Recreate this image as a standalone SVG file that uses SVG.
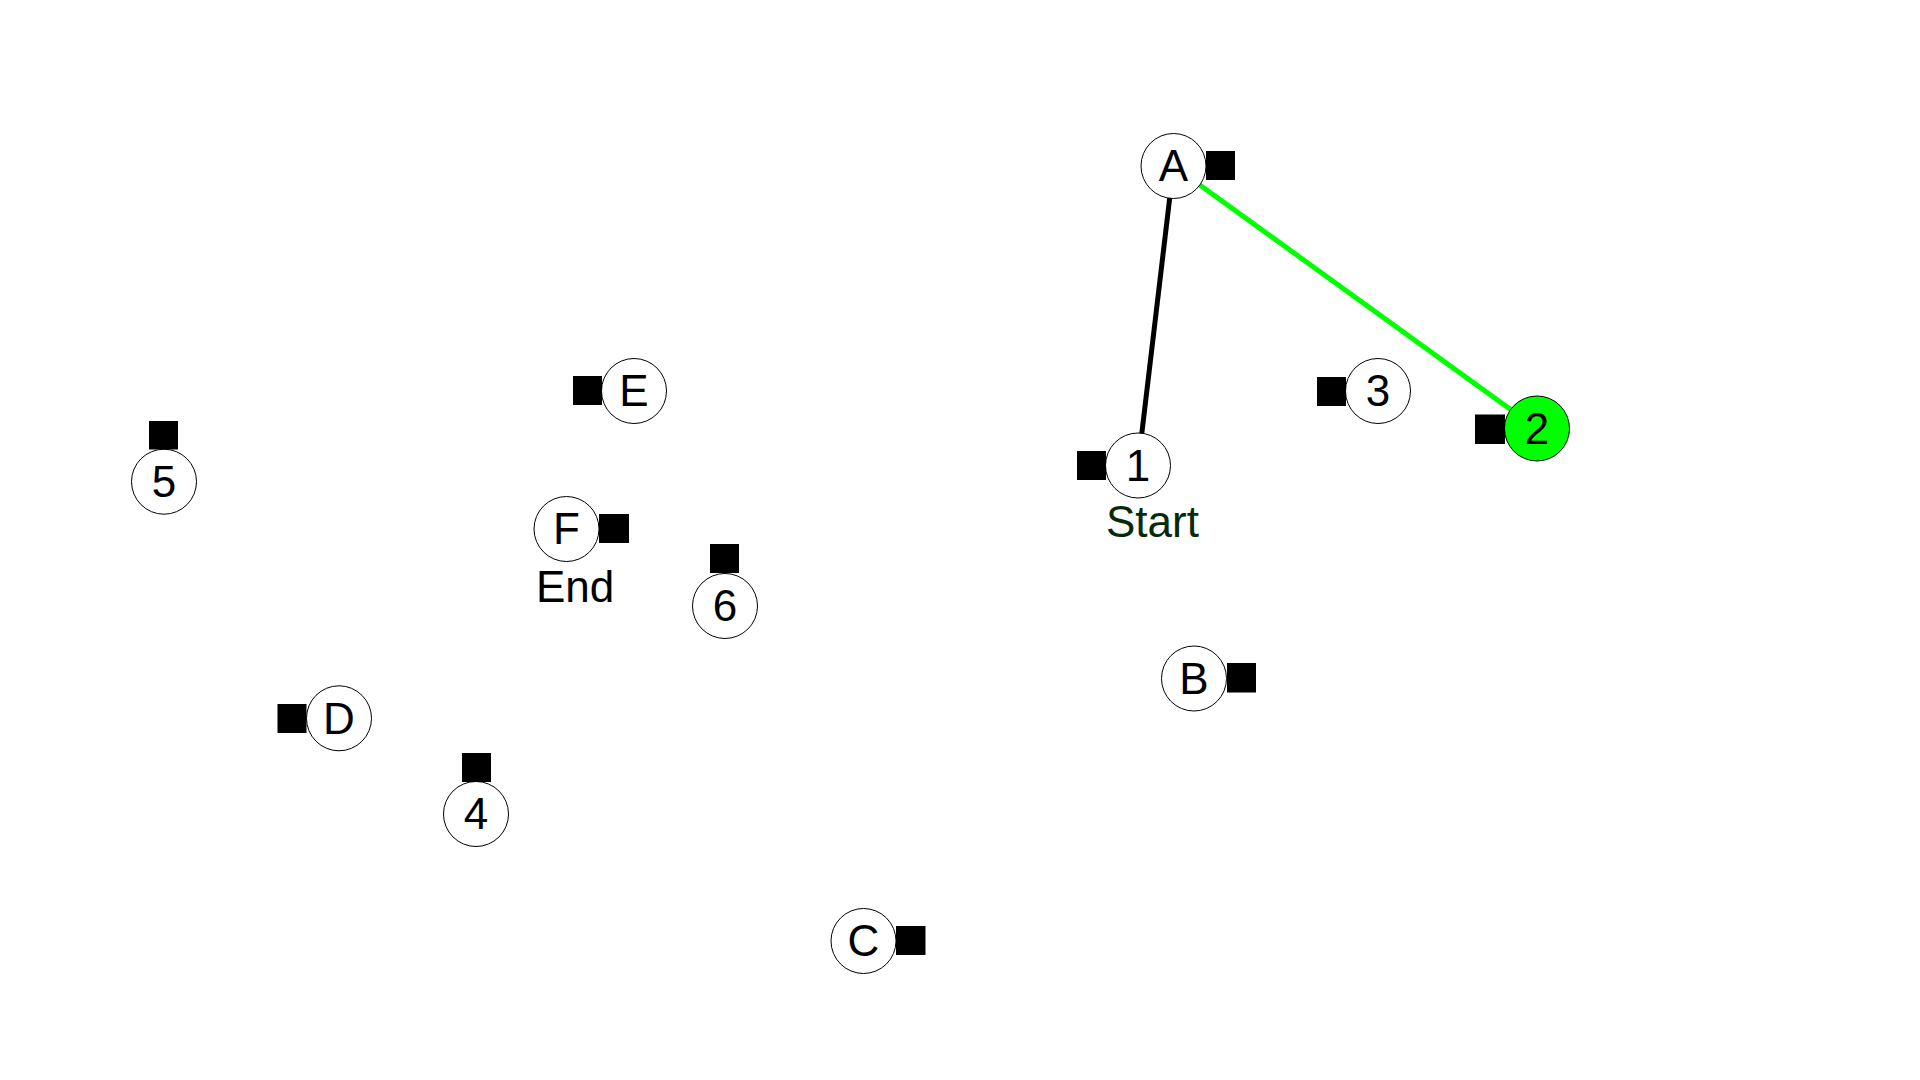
<svg xmlns="http://www.w3.org/2000/svg" width="1920" height="1080" viewBox="0 0 1920 1080">
<style>
.n circle{fill:#fff;stroke:#000;stroke-width:1}
.n rect{fill:#000}
.n text{font-family:"Liberation Sans",Arial,sans-serif;font-size:44px;fill:#000;text-anchor:middle}
.lbl{font-family:"Liberation Sans",Arial,sans-serif;font-size:43px}
.e{stroke-width:5;fill:none}
</style>
<rect width="1920" height="1080" fill="#fff"/>
<g id="connectors">
<line class="e" x1="1173.5" y1="166" x2="1138" y2="465.5" stroke="#000"/>
<line class="e" x1="1173.5" y1="166" x2="1537" y2="428.5" stroke="#00ff00"/>
</g>
<g id="node-A" class="n"><circle cx="1173.5" cy="166" r="32.5"/><rect x="1206" y="151" width="29" height="29"/><text x="1173.5" y="181">A</text></g>
<g id="node-1" class="n"><circle cx="1138" cy="465.5" r="32.5"/><rect x="1077" y="451" width="29" height="29"/><text x="1138" y="480.5">1</text><text class="lbl" x="1106" y="537" style="text-anchor:start;fill:#062a06">Start</text></g>
<g id="node-3" class="n"><circle cx="1378" cy="391" r="32.5"/><rect x="1317" y="377" width="29" height="29"/><text x="1378" y="406">3</text></g>
<g id="node-2" class="n"><circle cx="1537" cy="428.5" r="32.5" style="fill:#00ff00"/><rect x="1475" y="414.5" width="30" height="29.5"/><text x="1537" y="443.5">2</text></g>
<g id="node-E" class="n"><circle cx="634" cy="391" r="32.5"/><rect x="573" y="376" width="29" height="29"/><text x="634" y="406">E</text></g>
<g id="node-F" class="n"><circle cx="566.5" cy="529" r="32.5"/><rect x="599" y="514" width="30" height="29"/><text x="566.5" y="544">F</text><text class="lbl" x="536" y="602" style="text-anchor:start">End</text></g>
<g id="node-6" class="n"><circle cx="725" cy="606" r="32.5"/><rect x="710" y="544" width="29" height="29"/><text x="725" y="621">6</text></g>
<g id="node-5" class="n"><circle cx="164" cy="481.7" r="32.5"/><rect x="149" y="421" width="29" height="28.5"/><text x="164" y="497">5</text></g>
<g id="node-D" class="n"><circle cx="339" cy="718.3" r="32.5"/><rect x="277.5" y="704" width="29" height="29"/><text x="339" y="733.5">D</text></g>
<g id="node-4" class="n"><circle cx="476" cy="814" r="32.5"/><rect x="462" y="753" width="29" height="29"/><text x="476" y="829">4</text></g>
<g id="node-C" class="n"><circle cx="863.5" cy="941" r="32.5"/><rect x="896" y="926" width="29.5" height="29"/><text x="863.5" y="956">C</text></g>
<g id="node-B" class="n"><circle cx="1194" cy="678.5" r="32.5"/><rect x="1227" y="663" width="29" height="29.5"/><text x="1194" y="693.5">B</text></g>
</svg>
